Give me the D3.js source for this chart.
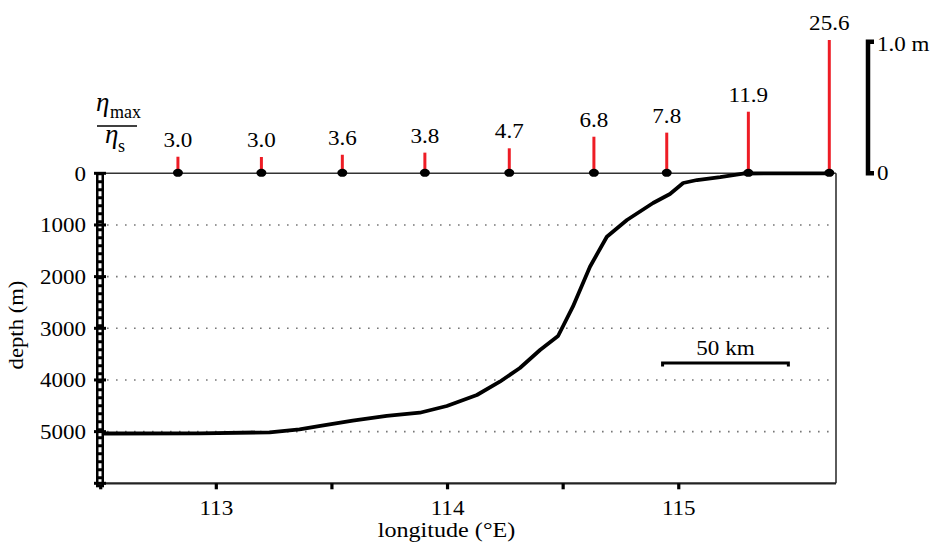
<!DOCTYPE html>
<html>
<head>
<meta charset="utf-8">
<script src="https://cdn.jsdelivr.net/npm/d3@7/dist/d3.min.js"></script>
<style>
  html, body { margin: 0; padding: 0; background: #fff; }
  svg { display: block; }
  text { font-family: "Liberation Serif", "Times New Roman", Times, serif; fill: #000; }
</style>
</head>
<body>
<svg id="chart" width="932" height="545"></svg>
<script>
// ---------- data ----------
const profileLon   = [112.516, 112.928, 113.231, 113.36, 113.45, 113.590, 113.737, 113.880, 113.997, 114.127, 114.226, 114.313, 114.400, 114.478, 114.542, 114.616, 114.689, 114.776, 114.889, 114.962, 115.019, 115.079, 115.179, 115.278, 115.655];
const profileDepth = [5036, 5032, 5013, 4955, 4890, 4788, 4697, 4634, 4504, 4291, 4034, 3768, 3420, 3149, 2582, 1808, 1227, 904, 575, 401, 188, 130, 72, 4, 0];

const stationLon   = [112.834, 113.195, 113.545, 113.902, 114.267, 114.633, 114.948, 115.301, 115.651];
const ampLabels    = ["3.0", "3.0", "3.6", "3.8", "4.7", "6.8", "7.8", "11.9", "25.6"];
const ampMax       = [0.126, 0.124, 0.141, 0.157, 0.19, 0.278, 0.309, 0.468, 1.013];

const depthTicks   = [0, 1000, 2000, 3000, 4000, 5000];
const depthGrid    = [1000, 2000, 3000, 4000, 5000];
const lonTicks     = [112.5, 113, 113.5, 114, 114.5, 115];
const lonLabels    = [113, 114, 115];
const scaleBarLon  = [114.93, 115.474];   // 50 km
const ampScaleTicks = [0, 1.0];

// ---------- scales ----------
const svg = d3.select("#chart");
const x = d3.scaleLinear().domain([112.5, 115.68]).range([100.7, 836]);
const y = d3.scaleLinear().domain([0, 6000]).range([173.3, 483.3]);
const a = d3.scaleLinear().domain([0, 1]).range([173.3, 41.7]);

function txt(g, s, px, py, size, anchor, sx) {
  return g.append("text")
    .attr("transform", `translate(${px},${py}) scale(${sx || 1.08},1)`)
    .attr("text-anchor", anchor || "middle")
    .style("font-size", size + "px")
    .text(s);
}

// gridlines (dotted)
svg.append("g").selectAll("line").data(depthGrid).join("line")
  .attr("x1", 107).attr("x2", x.range()[1] - 2)
  .attr("y1", d => y(d)).attr("y2", d => y(d))
  .attr("stroke", "#777").attr("stroke-width", 1.6)
  .attr("stroke-dasharray", "1.6,7.4");

// frame: top and right
svg.append("line").attr("x1", x.range()[0]).attr("x2", x.range()[1])
  .attr("y1", y(0)).attr("y2", y(0)).attr("stroke", "#333").attr("stroke-width", 1.6);
svg.append("line").attr("x1", x.range()[1]).attr("x2", x.range()[1])
  .attr("y1", y(0)).attr("y2", y(6000)).attr("stroke", "#333").attr("stroke-width", 1.6);

// bottom axis
svg.append("line").attr("x1", x.range()[0]).attr("x2", x.range()[1])
  .attr("y1", y(6000)).attr("y2", y(6000)).attr("stroke", "#222").attr("stroke-width", 2.2);
svg.append("g").selectAll("line").data(lonTicks).join("line")
  .attr("x1", d => x(d)).attr("x2", d => x(d))
  .attr("y1", y(6000)).attr("y2", y(6000) + 6)
  .attr("stroke", "#000").attr("stroke-width", 3.2);
const gx = svg.append("g");
lonLabels.forEach(d => txt(gx, String(d), x(d), 515, 21, "middle", 1.1));
txt(gx, "longitude (°E)", 446.5, 537, 21, "middle", 1.15);

// left axis (ladder strip)
const lx = x.range()[0] - 0.7;
svg.append("rect").attr("x", lx - 4).attr("y", y(0)).attr("width", 8)
  .attr("height", y(6000) - y(0) + 4).attr("fill", "#000");
svg.append("line").attr("x1", lx).attr("x2", lx).attr("y1", y(0) + 2).attr("y2", y(6000) + 2)
  .attr("stroke", "#fff").attr("stroke-width", 3).attr("stroke-dasharray", "5,3");
svg.append("g").selectAll("line").data(depthTicks.concat([6000])).join("line")
  .attr("x1", lx - 6).attr("x2", lx + 6)
  .attr("y1", d => y(d)).attr("y2", d => y(d))
  .attr("stroke", "#000").attr("stroke-width", 3);
const gy = svg.append("g");
depthTicks.forEach(d => txt(gy, String(d), 86, y(d) + 7.5, 20, "end", 1.15));
gy.append("text")
  .attr("transform", `translate(23,325) rotate(-90) scale(1.08,1)`)
  .attr("text-anchor", "middle").style("font-size", "21px").text("depth (m)");

// depth profile
const line = d3.line().x(d => x(d[0])).y(d => y(d[1]));
svg.append("path")
  .datum(profileLon.map((d, i) => [d, profileDepth[i]]))
  .attr("d", line).attr("fill", "none").attr("stroke", "#000")
  .attr("stroke-width", 3.8).attr("stroke-linejoin", "round").attr("stroke-linecap", "round");

// stems
const st = svg.append("g");
st.selectAll("line").data(stationLon).join("line")
  .attr("x1", d => x(d)).attr("x2", d => x(d))
  .attr("y1", a(0)).attr("y2", (d, i) => a(ampMax[i]))
  .attr("stroke", "#ee1c25").attr("stroke-width", 3);
st.selectAll("ellipse").data(stationLon).join("ellipse")
  .attr("cx", d => x(d)).attr("cy", a(0) - 0.5).attr("rx", 5).attr("ry", 4)
  .attr("fill", "#000");
stationLon.forEach((d, i) => txt(st, ampLabels[i], x(d), a(ampMax[i]) - 10, 22, "middle", 1.05));

// eta ratio label
const eg = svg.append("g");
eg.append("text").attr("x", 96).attr("y", 111).style("font-size", "27px").style("font-style", "italic").text("η");
eg.append("text").attr("x", 110).attr("y", 118).style("font-size", "18px").text("max");
eg.append("line").attr("x1", 97).attr("x2", 137).attr("y1", 126).attr("y2", 126)
  .attr("stroke", "#000").attr("stroke-width", 1.6);
eg.append("text").attr("x", 105).attr("y", 143).style("font-size", "27px").style("font-style", "italic").text("η");
eg.append("text").attr("x", 118).attr("y", 152).style("font-size", "18px").text("s");

// amplitude scale bar (right)
const sb = svg.append("g");
sb.append("path")
  .attr("d", `M874,${a(1)} H868 V${a(0)} H874`)
  .attr("fill", "none").attr("stroke", "#000").attr("stroke-width", 4.5);
txt(sb, "1.0 m", 877, a(ampScaleTicks[1]) + 9, 20, "start", 1.15);
txt(sb, "0", 877, a(ampScaleTicks[0]) + 7, 20, "start", 1.15);

// 50 km scale bar
const kb = svg.append("g");
kb.append("path")
  .attr("d", `M${x(scaleBarLon[0])},366.5 V363 H${x(scaleBarLon[1])} V366.5`)
  .attr("fill", "none").attr("stroke", "#000").attr("stroke-width", 3);
txt(kb, "50 km", (x(scaleBarLon[0]) + x(scaleBarLon[1])) / 2, 355, 21, "middle", 1.1);
</script>
</body>
</html>
